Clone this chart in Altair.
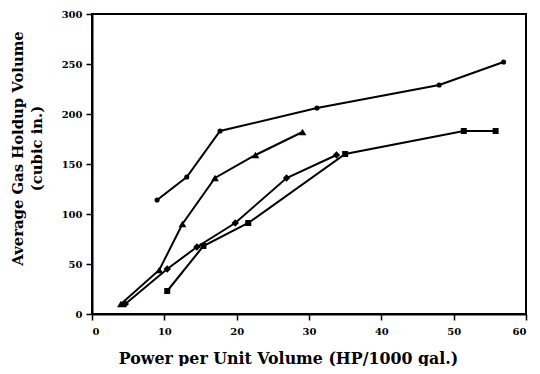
import altair as alt
import pandas as pd

circle_x = [9.0, 13.1, 17.7, 31.1, 48.0, 56.9]
circle_y = [114, 137, 183, 206, 229, 252]
tri_x = [4.0, 9.3, 12.5, 17.0, 22.6, 29.1]
tri_y = [10, 44, 90, 136, 159, 182]
dia_x = [4.6, 10.4, 14.5, 19.8, 26.9, 33.8]
dia_y = [10, 45, 67, 91, 136, 159]
sq_x = [10.4, 15.4, 21.6, 35.0, 51.4, 55.8]
sq_y = [23, 68, 91, 160, 183, 183]

series_names = ["circle", "triangle", "diamond", "square"]
shapes = ["circle", "triangle-up", "diamond", "square"]
sizes = [26, 60, 55, 36]

rows = []
for name, xs, ys in zip(series_names, [circle_x, tri_x, dia_x, sq_x], [circle_y, tri_y, dia_y, sq_y]):
    for i, (xv, yv) in enumerate(zip(xs, ys)):
        rows.append({"series": name, "idx": i, "x": xv, "y": yv})
df = pd.DataFrame(rows)

serif = "DejaVu Serif"

base = alt.Chart(df).encode(
    x=alt.X("x:Q", scale=alt.Scale(domain=[0, 60], nice=False),
            axis=alt.Axis(values=[0, 10, 20, 30, 40, 50, 60],
                          title="Power per Unit Volume (HP/1000 gal.)",
                          titleX=196, titleY=44, titleBaseline="middle",
                          titleAnchor="middle", titleAlign="center",
                          titleFontSize=15.8, labelPadding=6)),
    y=alt.Y("y:Q", scale=alt.Scale(domain=[0, 300], nice=False),
            axis=alt.Axis(values=[0, 50, 100, 150, 200, 250, 300],
                          title=["Average Gas Holdup Volume", "(cubic in.)"],
                          titleX=-74, titleY=134, titleBaseline="middle",
                          titleAlign="center", titleAngle=270,
                          titleFontSize=14.8, titleLineHeight=19, labelPadding=4)),
    detail="series:N",
    order="idx:O",
)

lines = base.mark_line(color="black", strokeWidth=2)
layers = [lines]
for name, shp, sz in zip(series_names, shapes, sizes):
    layers.append(
        base.transform_filter(alt.datum.series == name).mark_point(
            filled=True, color="black", opacity=1, shape=shp, size=sz
        )
    )

chart = alt.layer(*layers).properties(
    width=434, height=300,
    padding={"left": 84, "top": 6, "right": 5, "bottom": 52},
    autosize="none",
).configure_view(
    stroke="black", strokeWidth=2
).configure_axis(
    grid=False,
    domainColor="black", domainWidth=2,
    tickColor="black", tickWidth=1.5, tickSize=6,
    labelFont=serif, labelFontWeight="bold", labelFontSize=10, labelColor="black",
    titleFont=serif, titleFontWeight="bold", titleColor="black",
)

chart.save("out.html", embed_options={"renderer": "svg", "actions": False})
